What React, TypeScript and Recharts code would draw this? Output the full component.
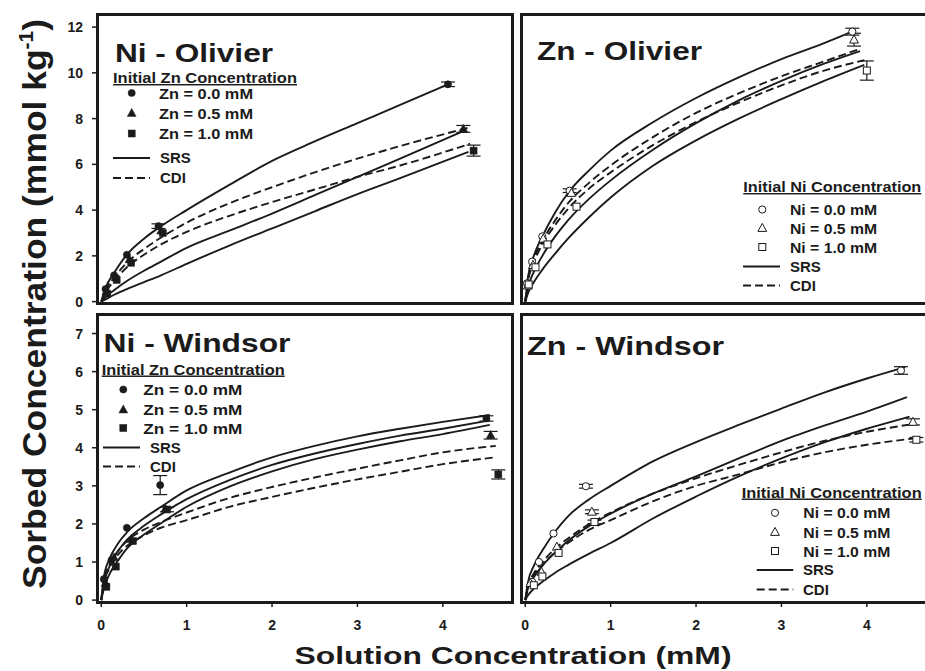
import { ComposedChart, Line, Scatter, XAxis, YAxis, ErrorBar } from 'recharts';

const FONT = '"Liberation Sans", Arial, Helvetica, sans-serif';
const INK = '#1b1b1b';

// axis ticks
const xTicks = [0, 1, 2, 3, 4];
const olivierYTicks = [0, 2, 4, 6, 8, 10, 12];
const windsorYTicks = [0, 1, 2, 3, 4, 5, 6, 7];
const X_DOMAIN = [-0.05, 4.81];
const OLIVIER_DOMAIN = [-0.06, 12.55];
const WINDSOR_DOMAIN = [-0.05, 7.5];

const znLabels = ['Zn = 0.0 mM', 'Zn = 0.5 mM', 'Zn = 1.0 mM'];
const niLabels = ['Ni = 0.0 mM', 'Ni = 0.5 mM', 'Ni = 1.0 mM'];

// ---- Ni - Olivier: model curves [x, y]
const niOlZn0Fit = [[0, 0], [0.05, 0.6], [0.15, 1.25], [0.3, 2.05], [0.5, 2.75], [0.7, 3.3], [1, 4.0], [1.5, 5.1], [2, 6.15], [2.5, 7.0], [3, 7.8], [3.5, 8.6], [4.06, 9.5]];
const niOlZn05Cdi = [[0, 0], [0.05, 0.5], [0.15, 1.05], [0.3, 1.7], [0.5, 2.3], [0.7, 2.8], [1, 3.45], [1.5, 4.3], [2, 5.0], [2.5, 5.65], [3, 6.25], [3.5, 6.8], [4.3, 7.6]];
const niOlZn05Srs = [[0, 0], [0.05, 0.2], [0.15, 0.5], [0.3, 0.9], [0.5, 1.35], [0.7, 1.75], [1, 2.35], [1.5, 3.1], [2, 3.85], [2.5, 4.65], [3, 5.45], [3.5, 6.25], [4.24, 7.45]];
const niOlZn1Cdi = [[0, 0], [0.05, 0.4], [0.15, 0.9], [0.3, 1.5], [0.5, 2.05], [0.7, 2.5], [1, 3.05], [1.5, 3.75], [2, 4.35], [2.5, 4.9], [3, 5.45], [3.5, 5.95], [4.32, 6.9]];
const niOlZn1Srs = [[0, 0], [0.05, 0.1], [0.15, 0.3], [0.3, 0.55], [0.5, 0.85], [0.7, 1.15], [1, 1.65], [1.5, 2.45], [2, 3.2], [2.5, 3.95], [3, 4.7], [3.5, 5.4], [4.3, 6.55]];
// measured points [x, y, error]
const niOlZn0Pts = [[0.05, 0.55, 0], [0.15, 1.15, 0], [0.3, 2.05, 0], [0.67, 3.3, 0.1], [4.06, 9.5, 0.1]];
const niOlZn05Pts = [[0.06, 0.45, 0], [0.17, 1.05, 0], [0.33, 1.85, 0], [0.7, 3.1, 0], [4.24, 7.55, 0.15]];
const niOlZn1Pts = [[0.07, 0.35, 0], [0.18, 0.95, 0], [0.35, 1.7, 0], [0.72, 3.0, 0], [4.36, 6.6, 0.24]];

// ---- Zn - Olivier
const znOlNi0Fit = [[0, 0], [0.03, 1.0], [0.1, 2.0], [0.2, 2.85], [0.35, 3.9], [0.5, 4.75], [0.75, 5.75], [1, 6.6], [1.5, 7.85], [2, 8.9], [2.5, 9.8], [3, 10.6], [3.5, 11.3], [3.83, 11.8]];
const znOlNi05Cdi = [[0, 0], [0.03, 0.95], [0.1, 1.85], [0.2, 2.65], [0.35, 3.55], [0.5, 4.3], [0.75, 5.2], [1, 5.95], [1.5, 7.2], [2, 8.25], [2.5, 9.1], [3, 9.85], [3.5, 10.5], [3.92, 11.05]];
const znOlNi05Srs = [[0, 0], [0.03, 0.6], [0.1, 1.3], [0.2, 2.0], [0.35, 2.85], [0.5, 3.55], [0.75, 4.5], [1, 5.3], [1.5, 6.65], [2, 7.8], [2.5, 8.8], [3, 9.65], [3.5, 10.4], [3.92, 10.95]];
const znOlNi1Cdi = [[0, 0], [0.03, 0.85], [0.1, 1.7], [0.2, 2.5], [0.35, 3.35], [0.5, 4.05], [0.75, 4.95], [1, 5.65], [1.5, 6.85], [2, 7.85], [2.5, 8.7], [3, 9.45], [3.5, 10.1], [3.97, 10.55]];
const znOlNi1Srs = [[0, 0], [0.03, 0.35], [0.1, 0.85], [0.2, 1.4], [0.35, 2.1], [0.5, 2.75], [0.75, 3.7], [1, 4.55], [1.5, 5.95], [2, 7.05], [2.5, 8.0], [3, 8.85], [3.5, 9.65], [3.97, 10.35]];
const znOlNi0Pts = [[0.02, 0.8, 0], [0.08, 1.75, 0], [0.2, 2.85, 0], [0.52, 4.85, 0.08], [3.83, 11.8, 0.15]];
const znOlNi05Pts = [[0.03, 0.7, 0], [0.09, 1.6, 0], [0.21, 2.75, 0], [0.54, 4.75, 0], [3.85, 11.45, 0.28]];
const znOlNi1Pts = [[0.04, 0.75, 0], [0.12, 1.5, 0], [0.26, 2.5, 0], [0.6, 4.15, 0], [4.0, 10.1, 0.42]];

// ---- Ni - Windsor
const niWiZn0Fit = [[0, 0], [0.03, 0.6], [0.1, 1.1], [0.2, 1.5], [0.3, 1.78], [0.5, 2.15], [0.7, 2.45], [1, 2.88], [1.5, 3.35], [2, 3.75], [2.5, 4.05], [3, 4.3], [3.5, 4.5], [4, 4.68], [4.55, 4.86]];
const niWiZn05Srs = [[0, 0], [0.03, 0.45], [0.1, 0.9], [0.2, 1.3], [0.3, 1.58], [0.5, 1.95], [0.7, 2.25], [1, 2.65], [1.5, 3.15], [2, 3.55], [2.5, 3.85], [3, 4.1], [3.5, 4.32], [4, 4.5], [4.55, 4.72]];
const niWiZn1Srs = [[0, 0], [0.03, 0.3], [0.1, 0.7], [0.2, 1.05], [0.3, 1.35], [0.5, 1.72], [0.7, 2.02], [1, 2.45], [1.5, 2.98], [2, 3.38], [2.5, 3.7], [3, 3.95], [3.5, 4.17], [4, 4.36], [4.55, 4.6]];
const niWiZn05Cdi = [[0, 0], [0.03, 0.5], [0.1, 0.95], [0.2, 1.3], [0.3, 1.55], [0.5, 1.85], [0.7, 2.05], [1, 2.3], [1.5, 2.68], [2, 2.97], [2.5, 3.22], [3, 3.45], [3.5, 3.67], [4, 3.88], [4.62, 4.05]];
const niWiZn1Cdi = [[0, 0], [0.03, 0.45], [0.1, 0.85], [0.2, 1.2], [0.3, 1.42], [0.5, 1.7], [0.7, 1.9], [1, 2.1], [1.5, 2.45], [2, 2.71], [2.5, 2.95], [3, 3.17], [3.5, 3.37], [4, 3.57], [4.62, 3.75]];
const niWiZn0Pts = [[0.03, 0.55, 0], [0.12, 1.05, 0], [0.3, 1.9, 0], [0.69, 3.02, 0.25], [4.51, 4.77, 0.07]];
const niWiZn05Pts = [[0.05, 0.45, 0], [0.15, 1.12, 0], [0.35, 1.6, 0], [0.75, 2.4, 0], [4.56, 4.33, 0.1]];
const niWiZn1Pts = [[0.06, 0.35, 0], [0.17, 0.88, 0], [0.37, 1.55, 0], [0.77, 2.38, 0.06], [4.65, 3.3, 0.12]];

// ---- Zn - Windsor
const znWiNi0Fit = [[0, 0], [0.03, 0.45], [0.1, 0.9], [0.2, 1.3], [0.35, 1.8], [0.5, 2.2], [0.75, 2.65], [1, 3.0], [1.5, 3.65], [2, 4.15], [2.5, 4.6], [3, 5.03], [3.5, 5.45], [4, 5.82], [4.45, 6.12]];
const znWiNi05Srs = [[0, 0], [0.03, 0.3], [0.1, 0.6], [0.2, 0.9], [0.35, 1.25], [0.5, 1.55], [0.75, 1.95], [1, 2.27], [1.5, 2.8], [2, 3.25], [2.5, 3.72], [3, 4.18], [3.5, 4.58], [4, 4.95], [4.47, 5.33]];
const znWiNi1Srs = [[0, 0], [0.03, 0.12], [0.1, 0.3], [0.2, 0.48], [0.35, 0.72], [0.5, 0.92], [0.75, 1.22], [1, 1.5], [1.5, 2.15], [2, 2.72], [2.5, 3.25], [3, 3.72], [3.5, 4.14], [4, 4.5], [4.5, 4.82]];
const znWiNi05Cdi = [[0, 0], [0.03, 0.35], [0.1, 0.7], [0.2, 1.0], [0.35, 1.35], [0.5, 1.62], [0.75, 2.0], [1, 2.3], [1.5, 2.8], [2, 3.2], [2.5, 3.55], [3, 3.88], [3.5, 4.18], [4, 4.42], [4.53, 4.62]];
const znWiNi1Cdi = [[0, 0], [0.03, 0.32], [0.1, 0.65], [0.2, 0.93], [0.35, 1.25], [0.5, 1.5], [0.75, 1.85], [1, 2.1], [1.5, 2.6], [2, 3.0], [2.5, 3.3], [3, 3.62], [3.5, 3.88], [4, 4.08], [4.57, 4.25]];
const znWiNi0Pts = [[0.08, 0.48, 0], [0.16, 1.0, 0], [0.33, 1.75, 0], [0.71, 2.99, 0.05], [4.4, 6.03, 0.1]];
const znWiNi05Pts = [[0.06, 0.45, 0], [0.19, 0.74, 0], [0.37, 1.4, 0], [0.78, 2.32, 0.05], [4.54, 4.68, 0.08]];
const znWiNi1Pts = [[0.1, 0.39, 0], [0.2, 0.62, 0], [0.39, 1.24, 0], [0.81, 2.05, 0.05], [4.58, 4.21, 0.06]];

const toXY = (a: number[][]) => a.map(([x, y, e]) => ({ x, y, e: e ?? 0 }));

type Kind = 'circle' | 'triangle' | 'square';

function Mark({ kind, cx, cy, open }: { kind: Kind; cx: number; cy: number; open: boolean }) {
  const fill = open ? '#fff' : INK;
  const sw = open ? 1 : 0.5;
  if (kind === 'circle') return <circle cx={cx} cy={cy} r={3.6} fill={fill} stroke={INK} strokeWidth={sw} />;
  if (kind === 'triangle')
    return <polygon points={`${cx},${cy - 4.6} ${cx - 4.4},${cy + 3.4} ${cx + 4.4},${cy + 3.4}`} fill={fill} stroke={INK} strokeWidth={sw} />;
  return <rect x={cx - 3.5} y={cy - 3.5} width={7} height={7} fill={fill} stroke={INK} strokeWidth={sw} />;
}

const kinds: Kind[] = ['circle', 'triangle', 'square'];
const W = 945;
const H = 671;
const PLOT_W = 415;

interface PanelProps {
  left: number;
  top: number;
  plotH: number;
  yDomain: number[];
  yTicks: number[];
  xLabels: boolean;
  yLabels: boolean;
  solid: number[][][];
  dashed: number[][][];
  points: number[][][];
  open: boolean;
}

function Panel({ left, top, plotH, yDomain, yTicks, xLabels, yLabels, solid, dashed, points, open }: PanelProps) {
  const tickStyle = { fill: INK, fontSize: 14, fontWeight: 700, fontFamily: FONT };
  return (
    <div style={{ position: 'absolute', left: 0, top: 0 }}>
      <ComposedChart
        width={W}
        height={H}
        margin={{ left: left - 60, top, right: W - left - PLOT_W, bottom: H - top - plotH - 30 }}
      >
        <XAxis
          type="number"
          dataKey="x"
          domain={X_DOMAIN}
          ticks={xTicks}
          allowDataOverflow
          axisLine={false}
          tickLine={{ stroke: INK, strokeWidth: 1.5 }}
          tickSize={5}
          tickMargin={13}
          tick={xLabels ? tickStyle : false}
          height={30}
        />
        <YAxis
          type="number"
          dataKey="y"
          domain={yDomain}
          ticks={yTicks}
          allowDataOverflow
          axisLine={false}
          tickLine={{ stroke: INK, strokeWidth: 1.5 }}
          tickSize={5}
          tickMargin={9}
          tick={yLabels ? tickStyle : false}
          width={60}
        />
        {solid.map((d, i) => (
          <Line key={'s' + i} data={toXY(d)} dataKey="y" type="monotone" dot={false} stroke={INK} strokeWidth={1.9} isAnimationActive={false} />
        ))}
        {dashed.map((d, i) => (
          <Line key={'d' + i} data={toXY(d)} dataKey="y" type="monotone" dot={false} stroke={INK} strokeWidth={1.9} strokeDasharray="8 4" isAnimationActive={false} />
        ))}
        {points.map((d, i) => (
          <Scatter
            key={'p' + i}
            data={toXY(d)}
            dataKey="y"
            isAnimationActive={false}
            shape={(p: any) => <Mark kind={kinds[i]} cx={p.cx} cy={p.cy} open={open} />}
          >
            <ErrorBar dataKey="e" direction="y" width={7} stroke={INK} strokeWidth={1.2} />
          </Scatter>
        ))}
      </ComposedChart>
      <div
        style={{
          position: 'absolute',
          left: left - 1.5,
          top: top - 1.5,
          width: PLOT_W + 3,
          height: plotH + 3,
          border: `3px solid ${INK}`,
          boxSizing: 'border-box',
        }}
      />
    </div>
  );
}

interface LegendProps {
  heading: string;
  hx: number;
  hy: number;
  hLen: number;
  mx: number;
  tx: number;
  tLen: number;
  rows: number[];
  labels: string[];
  open: boolean;
  lx1: number;
  lx2: number;
  fitRows: number[];
  fx: number;
}

function LegendBlock({ heading, hx, hy, hLen, mx, tx, tLen, rows, labels, open, lx1, lx2, fitRows, fx }: LegendProps) {
  return (
    <g fontFamily={FONT} fontWeight={700} fill={INK} fontSize={14.5}>
      <text x={hx} y={hy} textLength={hLen} lengthAdjust="spacingAndGlyphs" style={{ textDecoration: 'underline' }}>
        {heading}
      </text>
      {rows.map((y, i) => (
        <g key={i}>
          <Mark kind={kinds[i]} cx={mx} cy={y - 5.5} open={open} />
          <text x={tx} y={y} textLength={tLen} lengthAdjust="spacingAndGlyphs">
            {labels[i]}
          </text>
        </g>
      ))}
      <line x1={lx1} x2={lx2} y1={fitRows[0] - 5} y2={fitRows[0] - 5} stroke={INK} strokeWidth={1.9} />
      <text x={fx} y={fitRows[0]} fontSize={15}>SRS</text>
      <line x1={lx1} x2={lx2} y1={fitRows[1] - 5} y2={fitRows[1] - 5} stroke={INK} strokeWidth={1.9} strokeDasharray="8 4" />
      <text x={fx} y={fitRows[1]} fontSize={15}>CDI</text>
    </g>
  );
}

export default function App() {
  return (
    <div style={{ position: 'absolute', left: 0, top: 0, width: 925, height: 671, overflow: 'hidden', background: '#fff', fontFamily: FONT }}>
      <Panel
        left={97}
        top={14.5}
        plotH={288.5}
        yDomain={OLIVIER_DOMAIN}
        yTicks={olivierYTicks}
        xLabels={false}
        yLabels
        solid={[niOlZn0Fit, niOlZn05Srs, niOlZn1Srs]}
        dashed={[niOlZn05Cdi, niOlZn1Cdi]}
        points={[niOlZn0Pts, niOlZn05Pts, niOlZn1Pts]}
        open={false}
      />
      <Panel
        left={521}
        top={14.5}
        plotH={288.5}
        yDomain={OLIVIER_DOMAIN}
        yTicks={olivierYTicks}
        xLabels={false}
        yLabels={false}
        solid={[znOlNi0Fit, znOlNi05Srs, znOlNi1Srs]}
        dashed={[znOlNi05Cdi, znOlNi1Cdi]}
        points={[znOlNi0Pts, znOlNi05Pts, znOlNi1Pts]}
        open
      />
      <Panel
        left={97}
        top={314.5}
        plotH={287.5}
        yDomain={WINDSOR_DOMAIN}
        yTicks={windsorYTicks}
        xLabels
        yLabels
        solid={[niWiZn0Fit, niWiZn05Srs, niWiZn1Srs]}
        dashed={[niWiZn05Cdi, niWiZn1Cdi]}
        points={[niWiZn0Pts, niWiZn05Pts, niWiZn1Pts]}
        open={false}
      />
      <Panel
        left={521}
        top={314.5}
        plotH={287.5}
        yDomain={WINDSOR_DOMAIN}
        yTicks={windsorYTicks}
        xLabels
        yLabels={false}
        solid={[znWiNi0Fit, znWiNi05Srs, znWiNi1Srs]}
        dashed={[znWiNi05Cdi, znWiNi1Cdi]}
        points={[znWiNi0Pts, znWiNi05Pts, znWiNi1Pts]}
        open
      />
      <svg width={925} height={671} style={{ position: 'absolute', left: 0, top: 0, pointerEvents: 'none' }}>
        <g fontFamily={FONT} fontWeight={700} fill={INK} fontSize={26}>
          <text x={115} y={61.5} textLength={158} lengthAdjust="spacingAndGlyphs">Ni - Olivier</text>
          <text x={537} y={60} textLength={165} lengthAdjust="spacingAndGlyphs">Zn - Olivier</text>
          <text x={103.5} y={351.5} textLength={187} lengthAdjust="spacingAndGlyphs">Ni - Windsor</text>
          <text x={527} y={355} textLength={197} lengthAdjust="spacingAndGlyphs">Zn - Windsor</text>
        </g>
        <LegendBlock heading="Initial Zn Concentration" hx={113} hy={83} hLen={184} mx={131.7} tx={159} tLen={94}
          rows={[98.5, 118.5, 139]} labels={znLabels} open={false} lx1={113} lx2={150} fitRows={[163, 183]} fx={160} />
        <LegendBlock heading="Initial Ni Concentration" hx={743.3} hy={192} hLen={178} mx={762.3} tx={790} tLen={87}
          rows={[215, 233.5, 252.5]} labels={niLabels} open lx1={743} lx2={780} fitRows={[271.5, 290.5]} fx={790} />
        <LegendBlock heading="Initial Zn Concentration" hx={101.7} hy={374.5} hLen={183} mx={123.3} tx={143.3} tLen={99}
          rows={[395, 415, 433.5]} labels={znLabels} open={false} lx1={103} lx2={140} fitRows={[452.5, 471.5]} fx={150} />
        <LegendBlock heading="Initial Ni Concentration" hx={741.7} hy={497.5} hLen={180} mx={775} tx={803.3} tLen={87}
          rows={[518.3, 537.5, 556.5]} labels={niLabels} open lx1={756.7} lx2={793.3} fitRows={[575, 594.5]} fx={803} />
        <text x={513} y={664} textAnchor="middle" fontFamily={FONT} fontWeight={700} fontSize={24} fill={INK}
          textLength={437} lengthAdjust="spacingAndGlyphs">
          Solution Concentration (mM)
        </text>
        <text transform="translate(46,304) rotate(-90)" textAnchor="middle" fontFamily={FONT} fontWeight={700}
          fontSize={34} fill={INK} textLength={570} lengthAdjust="spacingAndGlyphs">
          Sorbed Concentration (mmol kg<tspan dy={-13} fontSize={20}>-1</tspan><tspan dy={13}>)</tspan>
        </text>
      </svg>
    </div>
  );
}
